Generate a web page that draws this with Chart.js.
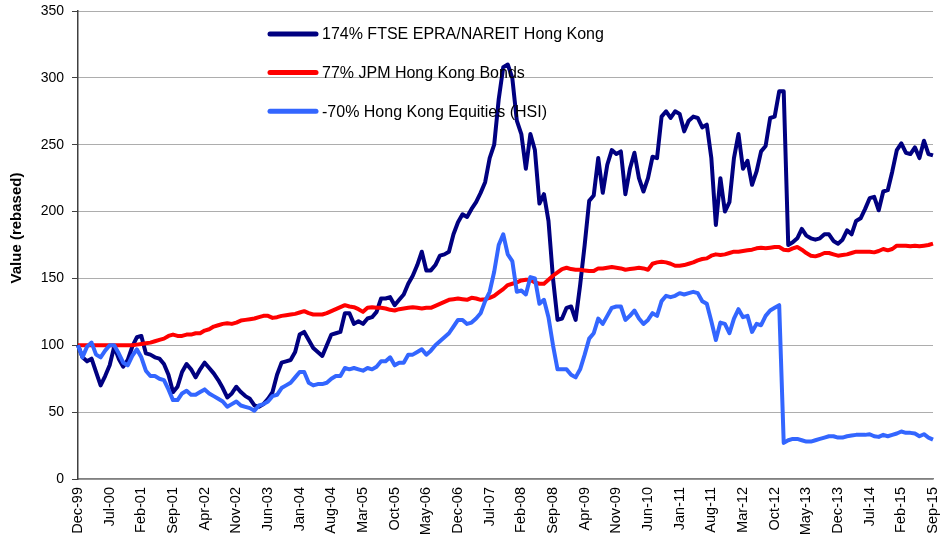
<!DOCTYPE html>
<html>
<head>
<meta charset="utf-8">
<title>Hong Kong rebased</title>
<script src="https://cdn.jsdelivr.net/npm/chart.js@4/dist/chart.umd.min.js"></script>
<style>
  html, body { margin: 0; padding: 0; background: #fff; }
  #wrap { width: 944px; height: 546px; }
</style>
</head>
<body>
<div id="wrap"><canvas id="myChart" width="944" height="546"></canvas></div>
<script>
// monthly, Dec-99 .. Sep-15
const MONTHS = ['Jan','Feb','Mar','Apr','May','Jun','Jul','Aug','Sep','Oct','Nov','Dec'];
const months = [];
for (let y = 1999, m = 11; months.length < 190; m++) {
  if (m === 12) { m = 0; y++; }
  months.push(MONTHS[m] + '-' + String(y % 100).padStart(2, '0'));
}

const tickLabels = ['Dec-99','Jul-00','Feb-01','Sep-01','Apr-02','Nov-02','Jun-03','Jan-04','Aug-04',
  'Mar-05','Oct-05','May-06','Dec-06','Jul-07','Feb-08','Sep-08','Apr-09','Nov-09','Jun-10','Jan-11',
  'Aug-11','Mar-12','Oct-12','May-13','Dec-13','Jul-14','Feb-15','Sep-15'];

const reitValues = [
  100, 91, 88, 90, 80, 70, 77, 85, 99, 90, 84, 89, 99, 106, 107, 94, 93, 91, 90, 86,
  78, 65, 69, 80, 86, 82, 76, 82, 87, 83, 79, 74, 68, 61, 64, 69, 65, 62, 60, 55,
  54, 56, 60, 65, 78, 87, 88, 89, 95, 108, 110, 104, 98, 95, 92, 100, 108, 109, 110, 124,
  124, 116, 118, 116, 120, 121, 125, 135, 135, 136, 130, 134, 138, 146, 152, 160, 170, 156, 156, 160,
  167, 168, 170, 183, 192, 198, 196, 202, 207, 214, 222, 240, 250, 284, 308, 310, 300, 268, 258, 232,
  258, 246, 206, 213, 193, 150, 119, 120, 128, 129, 119, 145, 175, 208, 212, 240, 214, 235, 246, 243,
  245, 213, 232, 244, 225, 215, 225, 241, 240, 271, 275, 270, 275, 273, 260, 268, 271, 270, 263, 265,
  240, 190, 225, 200, 207, 240, 258, 232, 238, 220, 230, 245, 249, 270, 271, 290, 290, 175, 177, 180,
  187, 182, 180, 179, 180, 183, 183, 178, 176, 179, 186, 183, 193, 195, 202, 210, 211, 201, 215, 216,
  230, 246, 251, 244, 243, 248, 240, 253, 243, 242
];

const bondValues = [
  100, 100, 100, 100, 100, 100, 100, 100, 100, 100, 100, 100, 100, 100.5, 101, 101.5, 102, 103, 104, 105,
  107, 108, 107, 107, 108, 108, 109, 109, 111, 112, 114, 115, 116, 116.5, 116, 117, 118.5, 119, 119.5, 120,
  121, 122, 122, 120.5, 121, 122, 122.5, 123, 123.5, 124.5, 125.5, 124, 123, 123, 123, 124, 125.5, 127, 128.5, 130,
  129, 128.5, 127, 125, 128, 128.5, 128, 128, 127.5, 126.5, 126, 127, 127.5, 128, 128.5, 128, 127.5, 128, 128, 129.5,
  131, 132.5, 134, 134.5, 135, 134.5, 134, 135.5, 135, 134, 134.5, 135.5, 137, 139.5, 142, 145, 146, 147, 148.5, 149,
  149, 147, 146, 146, 149, 152, 154.5, 157, 158, 157, 156.5, 156.5, 156, 155.5, 155.5, 157.5, 157.5, 158, 158.5, 158,
  157.5, 156.5, 157, 157.5, 158, 157.5, 156.5, 161, 162, 162.5, 162, 161, 159.5, 159.5, 160, 161, 162, 163.5, 164.5, 165,
  167, 168, 167.5, 168, 169, 170, 170, 170.5, 171, 171.5, 172.5, 173, 172.5, 173, 173.5, 173.5, 171.5, 171, 172.5, 173.5,
  171.5, 169, 167, 166.5, 167.5, 169, 169, 168, 167, 167.5, 168, 169, 170, 170, 170, 170, 169.5, 170.5, 172, 171,
  172, 174.5, 174.5, 174.5, 174, 174.5, 174, 174.5, 175, 176
];

const hsiValues = [
  100, 91, 99, 102, 93, 91, 96, 100, 100, 94, 87, 85, 92, 97, 91, 81, 77, 77, 75, 74,
  67, 59, 59, 64, 66, 63, 63, 65, 67, 64, 62, 60, 58, 54, 56, 58, 55, 54, 53, 51,
  55, 56, 58, 62, 63, 68, 70, 72, 76, 80, 80, 72, 70, 71, 71, 72, 75, 77, 77, 83,
  82, 83, 82, 81, 83, 82, 84, 88, 88, 91, 85, 87, 87, 93, 93, 95, 97, 93, 96, 100,
  103, 106, 109, 114, 119, 119, 116, 117, 120, 124, 133, 140, 155, 175, 183, 168, 163, 140, 141, 138,
  151, 150, 131, 134, 121, 100, 82, 82, 82, 78, 76, 82, 93, 105, 109, 120, 116, 122, 128, 129,
  129, 119, 122, 126, 120, 116, 119, 124, 122, 133, 137, 136, 137, 139, 138, 139, 140, 139, 133, 131,
  118, 104, 117, 116, 109, 120, 127, 121, 122, 110, 116, 115, 122, 126, 128, 130, 27, 29, 30, 30,
  29, 28, 28, 29, 30, 31, 32, 32, 31, 31, 32, 32.5, 33, 33, 33, 33.5, 32, 31.5, 33, 32,
  33, 34, 35.5, 34.5, 34.5, 34, 32, 33.5, 31, 29.5
];

const seriesNames = ['174% FTSE EPRA/NAREIT Hong Kong', '77% JPM Hong Kong Bonds', '-70% Hong Kong Equities (HSI)'];
const seriesColors = ['#000080', '#ff0000', '#3366ff'];
const yTitle = 'Value (rebased)';

const FONT = '"Liberation Sans", Arial, sans-serif';

// legend block sitting inside the plot, top-left of centre
const insideLegend = {
  id: 'insideLegend',
  afterDatasetsDraw(chart) {
    const ctx = chart.ctx;
    ctx.save();
    ctx.font = '16px ' + FONT;
    ctx.textBaseline = 'middle';
    ctx.lineCap = 'round';
    chart.data.datasets.forEach((ds, i) => {
      const y = 34 + i * 38.6;
      ctx.strokeStyle = ds.borderColor;
      ctx.lineWidth = 5;
      ctx.beginPath();
      ctx.moveTo(270, y);
      ctx.lineTo(316, y);
      ctx.stroke();
      ctx.fillStyle = '#000';
      ctx.fillText(ds.label, 322, y + 1);
    });
    ctx.restore();
  }
};

// rotated value-axis caption, a bit above the plot's middle
const axisCaption = {
  id: 'axisCaption',
  afterDraw(chart) {
    const ctx = chart.ctx;
    ctx.save();
    ctx.translate(17, 228);
    ctx.rotate(-Math.PI / 2);
    ctx.font = 'bold 15px ' + FONT;
    ctx.fillStyle = '#000';
    ctx.textAlign = 'center';
    ctx.textBaseline = 'middle';
    ctx.fillText(yTitle, 0, 0);
    ctx.restore();
  }
};

const ctx = document.getElementById('myChart').getContext('2d');

new Chart(ctx, {
  type: 'line',
  data: {
    labels: months,
    datasets: [reitValues, bondValues, hsiValues].map((vals, i) => ({
      label: seriesNames[i],
      data: vals,
      borderColor: seriesColors[i],
      backgroundColor: seriesColors[i],
      borderWidth: 4,
      pointRadius: 0,
      tension: 0,
      borderJoinStyle: 'round',
      order: 3 - i
    }))
  },
  options: {
    responsive: false,
    animation: false,
    devicePixelRatio: 1,
    layout: { padding: { left: 0, right: 11, top: 11, bottom: 0 } },
    plugins: {
      legend: { display: false },
      tooltip: { enabled: false }
    },
    scales: {
      x: {
        type: 'category',
        offset: false,
        grid: { display: false, drawTicks: false },
        border: { color: '#808080', width: 1.5 },
        ticks: {
          autoSkip: false,
          minRotation: 90,
          maxRotation: 90,
          padding: 8,
          color: '#000',
          font: { family: FONT, size: 14.5 },
          callback(value) {
            const lab = this.getLabelForValue(value);
            return tickLabels.includes(lab) ? lab : '';
          }
        },
        afterFit(scale) {
          scale.height = 67;
          scale.paddingLeft = 0;
          scale.paddingRight = 0;
        }
      },
      y: {
        min: 0,
        max: 350,
        ticks: {
          stepSize: 50,
          padding: 8,
          color: '#000',
          font: { family: FONT, size: 14 }
        },
        grid: {
          color: '#5a5a5a',
          tickColor: '#404040',
          tickBorderDash: [],
          tickLength: 6
        },
        border: { color: '#404040', width: 1.5, dash: [1, 1] },
        afterFit(scale) {
          scale.width = 78;
          scale.paddingTop = 0;
          scale.paddingBottom = 0;
        }
      }
    }
  },
  plugins: [insideLegend, axisCaption]
});
</script>
</body>
</html>
